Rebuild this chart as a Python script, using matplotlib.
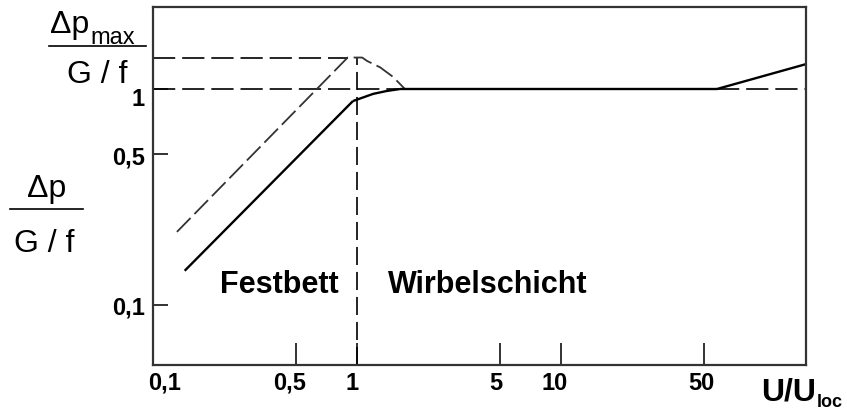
import matplotlib
matplotlib.use("Agg")
import matplotlib.pyplot as plt
from matplotlib.lines import Line2D
from matplotlib.transforms import ScaledTranslation

plt.rcParams['font.family'] = ['Liberation Sans', 'DejaVu Sans']
plt.rcParams['lines.scale_dashes'] = False

# Axis ranges (log-log)
x_range = [0.1, 158.9]
y_range = [0.0527, 2.40]

x_ticks = [0.1, 0.5, 1, 5, 10, 50]
x_tick_labels = ["0,1", "0,5", "1", "5", "10", "50"]
y_ticks = [0.1, 0.5, 1]
y_tick_labels = ["0,1", "0,5", "1"]

# Characteristic levels
dp_max = 1.4
dp_fluid = 1.0
u_loc = 1.0

# Solid curve: fixed bed, transition, fluidized plateau, rise
bed_x = [0.143, 0.955]
bed_y = [0.144, 0.88]
trans_x = [0.955, 1.20, 1.40, 1.62]
trans_y = [0.88, 0.95, 0.98, 1.0]
plateau_x = [1.62, 58]
plateau_y = [1.0, 1.0]
rise_x = [58, 158.9]
rise_y = [1.0, 1.305]

# Dashed curve with pressure overshoot
over_x = [0.131, 0.90, 1.06, 1.12, 1.30, 1.50, 1.72]
over_y = [0.218, 1.40, 1.40, 1.35, 1.26, 1.14, 1.0]

W, H = 847, 410
fig = plt.figure(figsize=(W / 100, H / 100), dpi=100)
ax = fig.add_axes([153 / W, 1 - 366 / H, (806 - 153) / W, (366 - 8) / H])
ax.set_xscale('log')
ax.set_yscale('log')
ax.set_xlim(x_range)
ax.set_ylim(y_range)

dash = dict(color='black', lw=1.2, dashes=(16, 5))

# Reference lines
ax.plot([x_range[0], over_x[1]], [dp_max, dp_max], **dash)
ax.plot([x_range[0], trans_x[-1]], [dp_fluid, dp_fluid], **dash)
ax.plot([rise_x[0], x_range[1]], [dp_fluid, dp_fluid], **dash)
ax.plot([u_loc, u_loc], [y_range[0], dp_max], color='black', lw=1.2, dashes=(13, 5))

# Curves
ax.plot(over_x, over_y, color='#333333', lw=1.3, dashes=(14, 4))
solid = dict(color='black', lw=1.7, solid_capstyle='butt')
ax.plot(bed_x, bed_y, **solid)
ax.plot(trans_x, trans_y, **solid)
ax.plot(plateau_x, plateau_y, **solid)
ax.plot(rise_x, rise_y, **solid)

# Axes styling
for sp in ax.spines.values():
    sp.set_color('#333333')
    sp.set_linewidth(1.6)
ax.minorticks_off()
ax.set_xticks(x_ticks, x_tick_labels)
ax.set_yticks(y_ticks, y_tick_labels)
ax.tick_params(axis='x', direction='in', length=16, width=1.4, color='#333333',
               pad=4, labelsize=17)
ax.tick_params(axis='y', direction='in', length=11, width=1.4, color='#333333',
               pad=6, labelsize=17)
for lbl in ax.get_xticklabels() + ax.get_yticklabels():
    lbl.set_fontweight('bold')

# Small label nudges (pixels)
x_shift = [12, -6, -5, -4, -6, -2]
for lbl, dx in zip(ax.get_xticklabels(), x_shift):
    lbl.set_transform(lbl.get_transform() + ScaledTranslation(dx / 100, 0, fig.dpi_scale_trans))
y_shift = [0, 0, -7]
for lbl, dy in zip(ax.get_yticklabels(), y_shift):
    lbl.set_transform(lbl.get_transform() + ScaledTranslation(0, dy / 100, fig.dpi_scale_trans))

# Region labels
ax.text(0.415, 0.115, "Festbett", fontsize=22, fontweight='bold',
        ha='center', va='baseline')
ax.text(4.39, 0.115, "Wirbelschicht", fontsize=22, fontweight='bold',
        ha='center', va='baseline')


def fx(px):
    return px / W


def fy(py):
    return 1 - py / H


def subscript(base, text, size, drop, gap=1, **kw):
    """Place a smaller text right after the end of `base`, lowered by `drop` points."""
    return fig.add_artist(matplotlib.text.Annotation(
        text, xy=(1, 0), xycoords=base, xytext=(gap, -drop), textcoords='offset points',
        fontsize=size, ha='left', va='baseline', **kw))


# Top-left fraction: Δp_max / (G/f)
dp_top = fig.text(fx(50), fy(33), "Δp", fontsize=23, ha='left', va='baseline')
subscript(dp_top, "max", 17, 3)
fig.add_artist(Line2D([fx(49), fx(146)], [fy(47), fy(47)], color='black', lw=1.2,
                      transform=fig.transFigure))
fig.text(fx(97), fy(83), "G / f", fontsize=23, ha='center', va='baseline')

# Left fraction: Δp / (G/f)
fig.text(fx(47), fy(197), "Δp", fontsize=23, ha='center', va='baseline')
fig.add_artist(Line2D([fx(10), fx(83)], [fy(210), fy(210)], color='black', lw=1.2,
                      transform=fig.transFigure))
fig.text(fx(44), fy(252), "G / f", fontsize=23, ha='center', va='baseline')

# x-axis title U/U_loc
uu = fig.text(fx(761), fy(401), "U/U", fontsize=23, fontweight='bold', ha='left', va='baseline')
subscript(uu, "loc", 13, -1, gap=0.5, fontweight='bold')

fig.savefig("out.png", dpi=100)
